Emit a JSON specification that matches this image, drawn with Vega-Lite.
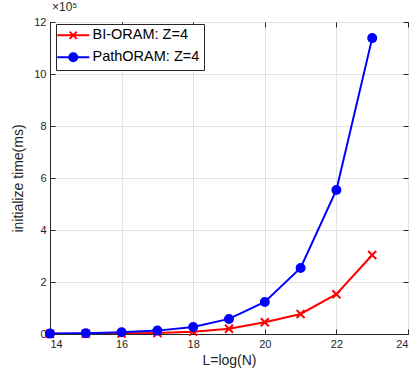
{
  "$schema": "https://vega.github.io/schema/vega-lite/v6.json",
  "autosize": "none",
  "width": 358,
  "height": 312,
  "padding": {"left": 50, "top": 22, "right": 3, "bottom": 45},
  "config": {
    "font": "Liberation Sans",
    "view": {"stroke": "#262626", "strokeWidth": 1},
    "axis": {"labelFont": "Liberation Sans", "titleFont": "Liberation Sans", "labelColor": "#262626", "titleColor": "#262626", "domainColor": "#262626", "tickColor": "#262626", "gridColor": "#e3e3e3", "labelFontSize": 11, "titleFontSize": 14, "titleFontWeight": "normal"},
    "legend": {"orient": "none", "legendX": 6, "legendY": 2, "fillColor": "white", "strokeColor": "#262626", "padding": 4, "labelFontSize": 14.5, "labelColor": "#000000", "labelFont": "Liberation Sans", "symbolSize": 64, "rowPadding": 6, "labelOffset": 12, "symbolOffset": 6, "symbolOpacity": 1, "symbolStrokeWidth": 2}
  },
  "title": {"text": "×10⁵", "anchor": "start", "frame": "group", "offset": 2, "fontSize": 12, "fontWeight": "normal", "color": "#262626", "dx": 2},
  "data": {"values": [
    {"L": 14, "t": 0.005, "s": "BI-ORAM: Z=4"},
    {"L": 15, "t": 0.01, "s": "BI-ORAM: Z=4"},
    {"L": 16, "t": 0.02, "s": "BI-ORAM: Z=4"},
    {"L": 17, "t": 0.04, "s": "BI-ORAM: Z=4"},
    {"L": 18, "t": 0.09, "s": "BI-ORAM: Z=4"},
    {"L": 19, "t": 0.2, "s": "BI-ORAM: Z=4"},
    {"L": 20, "t": 0.45, "s": "BI-ORAM: Z=4"},
    {"L": 21, "t": 0.77, "s": "BI-ORAM: Z=4"},
    {"L": 22, "t": 1.53, "s": "BI-ORAM: Z=4"},
    {"L": 23, "t": 3.04, "s": "BI-ORAM: Z=4"},
    {"L": 14, "t": 0.015, "s": "PathORAM: Z=4"},
    {"L": 15, "t": 0.03, "s": "PathORAM: Z=4"},
    {"L": 16, "t": 0.065, "s": "PathORAM: Z=4"},
    {"L": 17, "t": 0.13, "s": "PathORAM: Z=4"},
    {"L": 18, "t": 0.27, "s": "PathORAM: Z=4"},
    {"L": 19, "t": 0.58, "s": "PathORAM: Z=4"},
    {"L": 20, "t": 1.23, "s": "PathORAM: Z=4"},
    {"L": 21, "t": 2.54, "s": "PathORAM: Z=4"},
    {"L": 22, "t": 5.54, "s": "PathORAM: Z=4"},
    {"L": 23, "t": 11.38, "s": "PathORAM: Z=4"}
  ]},
  "resolve": {"axis": {"x": "independent", "y": "independent"}, "scale": {"shape": "independent", "fill": "independent", "stroke": "independent"}, "legend": {"shape": "independent", "fill": "independent", "stroke": "independent", "color": "independent"}},
  "layer": [
    {
      "mark": {"type": "line", "strokeWidth": 2, "clip": true},
      "encoding": {
        "x": {"field": "L", "type": "quantitative", "scale": {"domain": [14, 24], "nice": false}, "axis": {"title": "L=log(N)", "values": [14, 16, 18, 20, 22, 24], "tickSize": -5, "labelPadding": 9, "titlePadding": 4}},
        "y": {"field": "t", "type": "quantitative", "scale": {"domain": [0, 12], "nice": false}, "axis": {"title": "initialize time(ms)", "values": [0, 2, 4, 6, 8, 10, 12], "tickSize": -5, "labelPadding": 9, "titlePadding": 8}},
        "color": {"field": "s", "type": "nominal", "scale": {"domain": ["BI-ORAM: Z=4", "PathORAM: Z=4"], "range": ["#ff0000", "#0000ff"]}, "legend": null}
      }
    },
    {
      "mark": {"type": "point", "filled": true, "strokeWidth": 2, "size": 64, "opacity": 1},
      "encoding": {
        "x": {"field": "L", "type": "quantitative", "axis": {"orient": "top", "values": [14, 16, 18, 20, 22, 24], "labels": false, "title": null, "grid": false, "tickSize": -5, "domain": false}},
        "y": {"field": "t", "type": "quantitative", "axis": {"orient": "right", "values": [0, 2, 4, 6, 8, 10, 12], "labels": false, "title": null, "grid": false, "tickSize": -5, "domain": false}},
        "fill": {"field": "s", "type": "nominal", "scale": {"domain": ["BI-ORAM: Z=4", "PathORAM: Z=4"], "range": ["#ff0000", "#0000ff"]}, "legend": null},
        "stroke": {"field": "s", "type": "nominal", "scale": {"domain": ["BI-ORAM: Z=4", "PathORAM: Z=4"], "range": ["#ff0000", "#0000ff"]}, "legend": null},
        "shape": {"field": "s", "type": "nominal", "scale": {"domain": ["BI-ORAM: Z=4", "PathORAM: Z=4"], "range": ["M-1,-1L1,1M-1,1L1,-1", "circle"]}, "legend": null}
      }
    },
    {
      "transform": [{"filter": "false"}],
      "mark": {"type": "point", "filled": true, "strokeWidth": 2, "size": 64, "opacity": 1},
      "encoding": {
        "x": {"field": "L", "type": "quantitative", "axis": null},
        "y": {"field": "t", "type": "quantitative", "axis": null},
        "fill": {"field": "s", "type": "nominal", "title": null, "scale": {"domain": ["BI-ORAM: Z=4", "PathORAM: Z=4"], "range": ["#ff0000", "#0000ff"]}},
        "stroke": {"field": "s", "type": "nominal", "title": null, "scale": {"domain": ["BI-ORAM: Z=4", "PathORAM: Z=4"], "range": ["#ff0000", "#0000ff"]}},
        "shape": {"field": "s", "type": "nominal", "title": null, "scale": {"domain": ["BI-ORAM: Z=4", "PathORAM: Z=4"], "range": ["M-4,0H4M-0.9,-0.9L0.9,0.9M-0.9,0.9L0.9,-0.9", "M-4,0H4M1.0,0A1.0,1.0 0 1,1 -1.0,0A1.0,1.0 0 1,1 1.0,0Z"]}}
      }
    }
  ]
}
